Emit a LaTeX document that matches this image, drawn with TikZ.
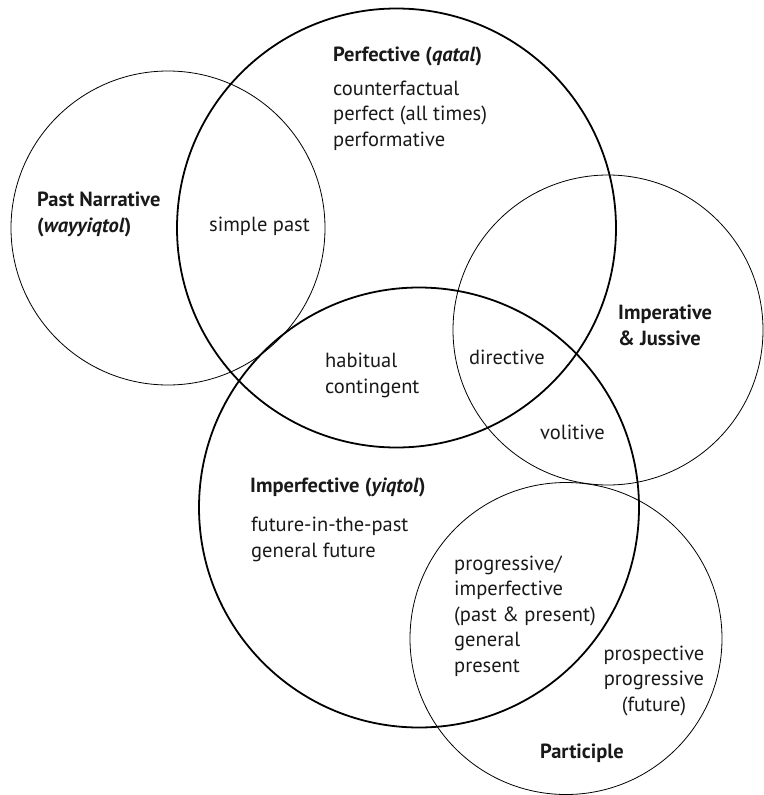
\documentclass[tikz,border=0pt]{standalone}
\usepackage{fontspec}
\setmainfont{PT Sans}
\begin{document}
\begin{tikzpicture}[x=1pt,y=-1pt,
  thickring/.style={draw=black,line width=1.8pt},
  thinring/.style={draw=black,line width=0.8pt},
  lbl/.style={anchor=base west,inner sep=0pt,align=left,text=black!90,
              font=\fontsize{20.5}{25.5}\selectfont},
  head/.style={lbl,font=\fontsize{20.5}{25.5}\selectfont\bfseries}]
\useasboundingbox (0,0) rectangle (763,795);

% circles
\draw[thinring]  (168,228) circle[radius=157pt];
\draw[thickring] (396.5,228) circle[radius=219.5pt];
\draw[thinring]  (608,330) circle[radius=155pt];
\draw[thickring] (419,507.5) circle[radius=220pt];
\draw[thinring]  (566,638.5) circle[radius=156pt];

% multi-line labels are placed by the baseline of their last line
% perfective
\node[head] (perf) at (333,61) {Perfective (\textit{qatal})};
\node[lbl] (perfuses) at (333,146) {counterfactual\\perfect (all times)\\performative};

% past narrative
\node[head] (pastnar) at (37,232) {Past Narrative\\(\textit{wayyiqtol})};
\node[lbl] (simple) at (209,231) {simple past};

% imperative & jussive
\node[head] (imper) at (618,345) {Imperative\\\&~Jussive};
\node[lbl] (habit) at (325,393) {habitual\\contingent};
\node[lbl] (direct) at (469,364) {directive};
\node[lbl] (volit) at (540,439) {volitive};

% imperfective
\node[head] (imperf) at (250,492) {Imperfective (\textit{yiqtol})};
\node[lbl] (imperfuses) at (251,557) {future-in-the-past\\general future};

% participle
\node[lbl] (prog) at (454,672) {progressive/\\imperfective\\(past \& present)\\general\\present};
\node[lbl,anchor=base,align=center] (prosp) at (654,711) {prospective\\progressive\\(future)};
\node[head,anchor=base] (partic) at (582,758) {Participle};
\end{tikzpicture}
\end{document}
